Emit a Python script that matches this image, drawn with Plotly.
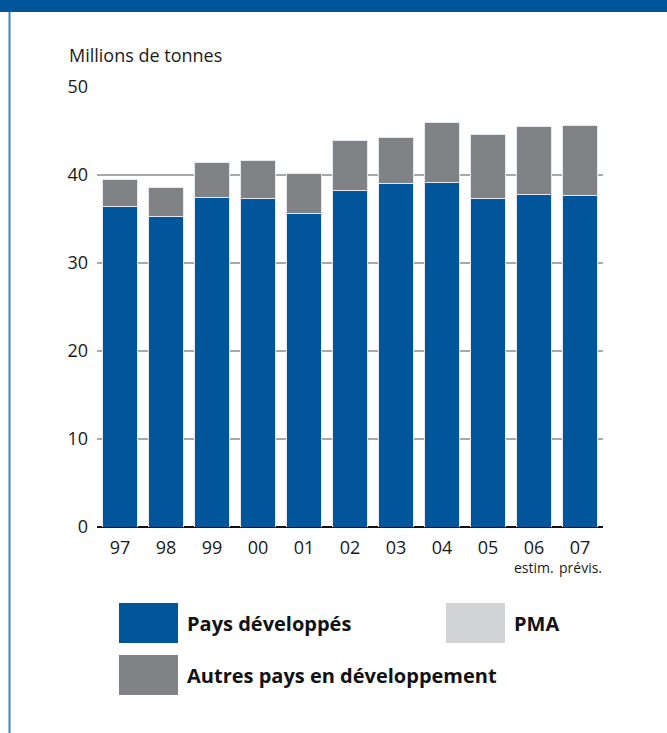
import plotly.graph_objects as go

# Years (two-digit labels) and the footnote under the last two
years = ["97", "98", "99", "00", "01", "02", "03", "04", "05", "06", "07"]
year_notes = ["", "", "", "", "", "", "", "", "", "estim.", "prévis."]

# Million tonnes by country group
pays_developpes = [36.4, 35.3, 37.4, 37.3, 35.6, 38.2, 39.0, 39.2, 37.3, 37.8, 37.7]
pma = [0, 0, 0, 0, 0, 0, 0, 0, 0, 0, 0]
autres_pays_dev = [3.1, 3.3, 4.0, 4.3, 4.6, 5.7, 5.3, 6.8, 7.3, 7.7, 7.9]

y_ticks = [0, 10, 20, 30, 40, 50]

BLUE = "#00559B"
GREY = "#808285"
LIGHT = "#D1D3D4"
FONT = "Open Sans, Noto Sans, sans-serif"

W, H = 667, 733
L, R, T, B = 97, 64, 87, 206  # margins of the plotting area


def px(x):
    return (x - L) / (W - L - R)


def py(y):
    return (H - B - y) / (H - T - B)


fig = go.Figure()
series = [
    ("Pays développés", pays_developpes, BLUE),
    ("PMA", pma, LIGHT),
    ("Autres pays en développement", autres_pays_dev, GREY),
]
for name, vals, col in series:
    fig.add_bar(
        x=years, y=vals, name=name,
        marker=dict(color=col, line=dict(color="#E4E8EE", width=1)),
        showlegend=False,
    )

fig.update_layout(
    width=W, height=H,
    margin=dict(l=L, r=R, t=T, b=B, pad=0),
    barmode="stack", bargap=0.26,
    paper_bgcolor="white", plot_bgcolor="white",
    font=dict(family=FONT, size=18, color="#1a1a1a"),
    xaxis=dict(
        type="category", tickmode="array", tickvals=years, ticktext=years,
        showgrid=False, showline=False, ticks="", tickfont=dict(size=18),
        ticklabelstandoff=8,
        range=[-0.5, len(years) - 0.5],
    ),
    yaxis=dict(
        range=[0, 50], tickvals=y_ticks, showgrid=True,
        gridcolor="#A7A9AC", gridwidth=2,
        zeroline=True, zerolinecolor="#111111", zerolinewidth=2,
        showline=False, ticks="", ticklabelstandoff=8, tickfont=dict(size=18),
    ),
)

shapes = [
    # top band
    dict(type="rect", xref="paper", yref="paper",
         x0=px(0), x1=px(W), y0=py(12), y1=py(0),
         fillcolor=BLUE, line=dict(width=0), layer="above"),
    # left rule
    dict(type="line", xref="paper", yref="paper",
         x0=px(9.5), x1=px(9.5), y0=py(12), y1=py(H),
         line=dict(color="#3E86C4", width=2)),
]

annotations = [
    dict(text="Millions de tonnes", xref="paper", yref="paper",
         x=px(67), y=py(55), xanchor="left", yanchor="middle",
         showarrow=False, font=dict(size=18)),
]

# notes under the estimated and forecast years (category index positions)
for i, note in enumerate(year_notes):
    if note:
        annotations.append(dict(text=note, xref="x", yref="paper",
                                x=i, y=py(567), xanchor="center",
                                yanchor="middle", showarrow=False,
                                font=dict(size=14)))

# legend swatches and labels
legend_pos = [(119, 603), (446, 603), (119, 655)]
for (name, _, col), (lx, ly) in zip(series, legend_pos):
    shapes.append(dict(type="rect", xref="paper", yref="paper",
                       x0=px(lx), x1=px(lx + 59), y0=py(ly + 40), y1=py(ly),
                       fillcolor=col, line=dict(width=0)))
    annotations.append(dict(text=f"<b>{name}</b>", xref="paper", yref="paper",
                            x=px(lx + 66), y=py(ly + 20), xanchor="left",
                            yanchor="middle", showarrow=False,
                            font=dict(size=20, color="#111111")))

fig.update_layout(shapes=shapes, annotations=annotations)
fig.write_html("out.html")
